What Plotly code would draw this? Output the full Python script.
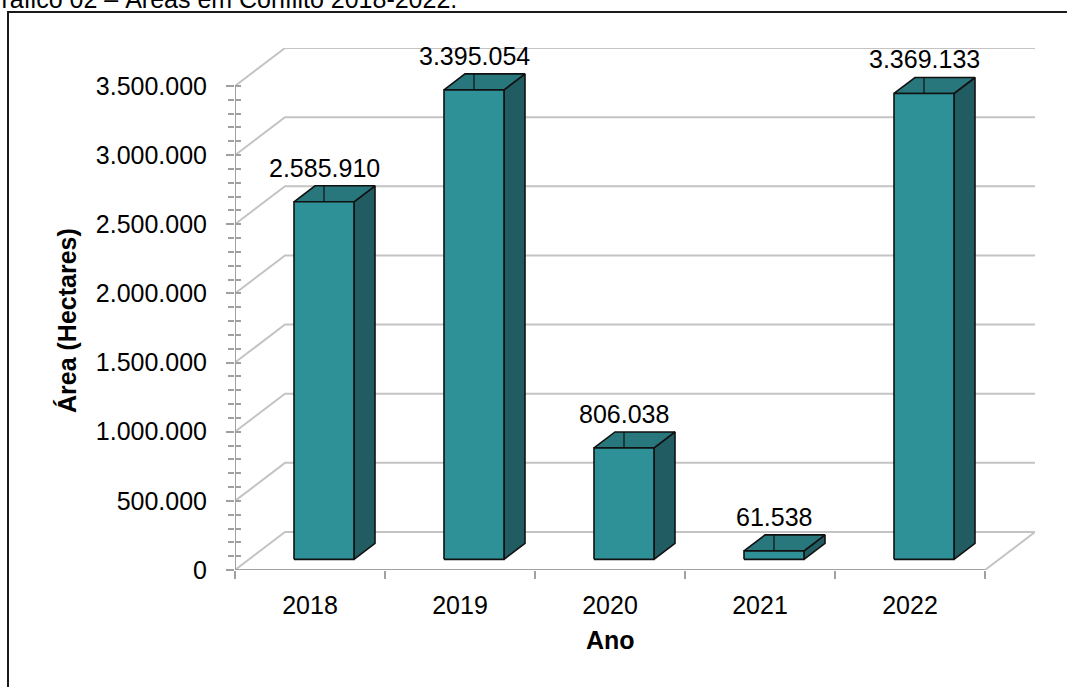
import plotly.graph_objects as go

# ---------------- data ----------------
categories = ["2018", "2019", "2020", "2021", "2022"]
values = [2585910, 3395054, 806038, 61538, 3369133]
y_tickvals = [0, 500000, 1000000, 1500000, 2000000, 2500000, 3000000, 3500000]
y_ticktext = ["0", "500.000", "1.000.000", "1.500.000", "2.000.000", "2.500.000", "3.000.000", "3.500.000"]
title_text = "Gráfico 02 – Áreas em Conflito 2018-2022."
y_title = "Área (Hectares)"
x_title = "Ano"

# ---------------- geometry / style ----------------
W, H = 1067, 687
ML, MR, MT, MB = 235, 32, 48, 117
plot_w = W - ML - MR
plot_h = H - MT - MB
ymax_front = 3500000
px_per_y = 484 / ymax_front
DX = 50 / 150.0               # wall depth in x units
DY = 38 / px_per_y            # wall depth in y units
F1, F2 = 0.28, 0.70           # bar front/back depth fractions
BAR_HALF = 0.2

FONT = "Arial, Liberation Sans, sans-serif"
FS = 25
GRID = "#c4c4c4"
AXIS = "#a0a0a0"
C_FRONT = "#2E9198"
C_TOP = "#27777D"
C_SIDE = "#205C61"

fig = go.Figure()

def add_line(xs, ys, color, width):
    fig.add_trace(go.Scatter(x=xs, y=ys, mode="lines", line=dict(color=color, width=width),
                             hoverinfo="skip", showlegend=False, cliponaxis=False))

n = len(categories)
# gridlines (side wall + back wall)
for v in y_tickvals:
    add_line([0, DX, n + DX], [v, v + DY, v + DY], GRID, 2)
# floor right edge
add_line([n, n + DX], [0, DY], GRID, 2)
# front axis lines
add_line([0, 0], [0, ymax_front], AXIS, 2)
add_line([0, n], [0, 0], AXIS, 2)

def add_poly(xs, ys, color):
    fig.add_trace(go.Scatter(x=xs + [xs[0]], y=ys + [ys[0]], mode="lines", fill="toself",
                             fillcolor=color, line=dict(color="#111111", width=1.6),
                             hoverinfo="skip", showlegend=False, cliponaxis=False))

ddx = (F2 - F1) * DX
ddy = (F2 - F1) * DY
for i, v in enumerate(values):
    cx = i + 0.5 + F1 * DX
    x0, x1 = cx - BAR_HALF, cx + BAR_HALF
    y0 = F1 * DY
    y1 = v + F1 * DY
    add_poly([x1, x1 + ddx, x1 + ddx, x1], [y0, y0 + ddy, y1 + ddy, y1], C_SIDE)
    add_poly([x0, x1, x1 + ddx, x0 + ddx], [y1, y1, y1 + ddy, y1 + ddy], C_TOP)
    add_poly([x0, x1, x1, x0], [y0, y0, y1, y1], C_FRONT)
    # leader line on top face
    add_line([cx, cx], [y1, y1 + ddy], "#111111", 1.2)
    label = f"{v:,}".replace(",", ".")
    fig.add_annotation(x=cx, y=y1, xref="x", yref="y", text=label, showarrow=False,
                       yanchor="bottom", yshift=18, font=dict(family=FONT, size=FS, color="#000"))

# dummy trace for the overlay axis (inner half of the tick marks)
fig.add_trace(go.Scatter(x=[0], y=[0], yaxis="y2", mode="markers", marker=dict(opacity=0),
                         hoverinfo="skip", showlegend=False))

minor_vals = [k * 100000 for k in range(0, 36) if k % 5 != 0]
yr = [0, ymax_front + DY]

fig.update_layout(
    width=W, height=H,
    margin=dict(l=ML, r=MR, t=MT, b=MB),
    paper_bgcolor="white", plot_bgcolor="white",
    separators=",.",
    font=dict(family=FONT, size=FS, color="#000"),
    xaxis=dict(range=[0, n + DX], showgrid=False, zeroline=False, showline=False,
               tickmode="array", tickvals=[i + 0.5 for i in range(n)], ticktext=categories,
               ticks="outside", ticklen=8, tickcolor="rgba(0,0,0,0)", ticklabelstandoff=5,
               minor=dict(tickmode="array", tickvals=list(range(n + 1)), ticks="outside",
                          ticklen=8, tickcolor=AXIS, tickwidth=1.5),
               tickfont=dict(family=FONT, size=FS, color="#000"), fixedrange=True),
    yaxis=dict(range=yr, showgrid=False, zeroline=False, showline=False,
               tickmode="array", tickvals=y_tickvals, ticktext=y_ticktext,
               ticks="outside", ticklen=8, tickcolor=AXIS, tickwidth=1.5,
               ticklabelstandoff=14,
               minor=dict(tickmode="array", tickvals=minor_vals, ticks="outside",
                          ticklen=6, tickcolor=AXIS, tickwidth=1.5),
               tickfont=dict(family=FONT, size=FS, color="#000"), fixedrange=True),
    yaxis2=dict(range=yr, overlaying="y", side="left", anchor="x", showgrid=False,
                zeroline=False, showline=False, showticklabels=False,
                tickmode="array", tickvals=y_tickvals, ticks="inside", ticklen=6,
                tickcolor=AXIS, tickwidth=1.5,
                minor=dict(tickmode="array", tickvals=minor_vals, ticks="inside",
                           ticklen=6, tickcolor=AXIS, tickwidth=1.5),
                fixedrange=True),
)

def px_to_paper_x(px):
    return (px - ML) / plot_w

def py_to_paper_y(py):
    return (H - MB - py) / plot_h

# axis titles
fig.add_annotation(xref="paper", yref="paper", x=px_to_paper_x(67), y=py_to_paper_y(321),
                   text=f"<b>{y_title}</b>", textangle=-90, showarrow=False,
                   xanchor="center", yanchor="middle", font=dict(family=FONT, size=FS, color="#000"))
fig.add_annotation(xref="paper", yref="paper", x=px_to_paper_x(610), y=py_to_paper_y(640),
                   text=f"<b>{x_title}</b>", showarrow=False,
                   xanchor="center", yanchor="middle", font=dict(family=FONT, size=FS, color="#000"))
# partially visible caption above the frame (cut by the page edge as in the source)
fig.add_annotation(xref="paper", yref="paper", x=px_to_paper_x(-20), y=py_to_paper_y(15),
                   text=title_text, showarrow=False, xanchor="left", yanchor="bottom",
                   font=dict(family=FONT, size=FS, color="#000"))
# frame
fig.add_shape(type="rect", xref="paper", yref="paper",
              x0=px_to_paper_x(8), x1=px_to_paper_x(W + 20),
              y0=py_to_paper_y(12), y1=py_to_paper_y(H + 20),
              line=dict(color="#1a1a1a", width=2), fillcolor="rgba(0,0,0,0)", layer="above")

fig.write_html("out.html", config={"displayModeBar": False},
               post_script="document.body.style.margin='0';document.body.style.overflow='hidden';")
